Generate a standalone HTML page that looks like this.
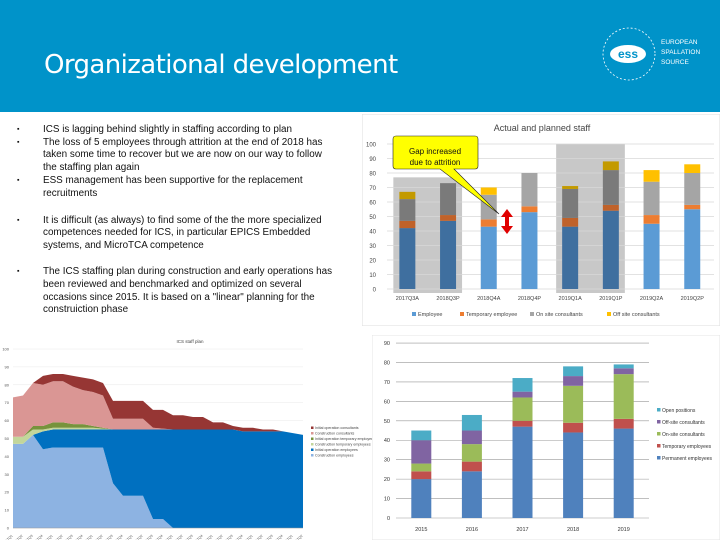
<!DOCTYPE html>
<html><head><meta charset="utf-8"><style>
body{margin:0;width:720px;height:540px;position:relative;overflow:hidden;background:#fff;font-family:"Liberation Sans",sans-serif}
#hdr{position:absolute;left:0;top:0;width:720px;height:112px;background:#0093c9}
#title{position:absolute;left:44px;top:50px;color:#fff;font-size:26px;font-family:"DejaVu Sans","Liberation Sans",sans-serif;font-weight:normal;letter-spacing:-0.6px}
#logo{position:absolute;left:598px;top:24px}
#logotxt{position:absolute;left:661px;top:38px;color:#fff;font-size:6.5px;line-height:10px}
#bul{position:absolute;left:0;top:124px;width:362px;font-size:9.9px;color:#111;line-height:12.6px;white-space:nowrap}
.b{position:relative;padding-left:43px;margin-bottom:0}
.b:before{content:"▪";position:absolute;left:17px;font-size:7px}
svg{position:absolute}
</style></head><body>
<div id="hdr"></div>
<div id="title">Organizational development</div>
<svg id="logo" width="62" height="60"><circle cx="31" cy="30" r="26" fill="none" stroke="#fff" stroke-dasharray="2 2" stroke-width="0.8"/><ellipse cx="30" cy="30" rx="18" ry="9" fill="#fff"/><text x="30" y="34" fill="#0093c9" font-size="12" font-weight="bold" text-anchor="middle">ess</text></svg>
<div id="logotxt">EUROPEAN<br>SPALLATION<br>SOURCE</div>
<div id="bul">
<div class="b">ICS is lagging behind slightly in staffing according to plan</div>
<div class="b">The loss of 5 employees through attrition at the end of 2018 has<br>taken some time to recover but we are now on our way to follow<br>the staffing plan again</div>
<div class="b" style="margin-top:1px">ESS management has been supportive for the replacement<br>recruitments</div>
<div style="height:14px"></div>
<div class="b">It is difficult (as always) to find some of the the more specialized<br>competences needed for ICS, in particular EPICS Embedded<br>systems, and MicroTCA competence</div>
<div style="height:14px"></div>
<div class="b">The ICS staffing plan during construction and early operations has<br>been reviewed and benchmarked and optimized on several<br>occasions since 2015. It is based on a "linear" planning for the<br>construiction phase</div>
</div>
<svg id="c1" style="left:362px;top:114px" width="358" height="212"></svg>
<svg id="c2" style="left:372px;top:335px" width="348" height="205"></svg>
<svg id="c3" style="left:0;top:335px" width="372" height="205"></svg>
<script>
const NS="http://www.w3.org/2000/svg";
function mk(p,t,a,txt){const e=document.createElementNS(NS,t);for(const k in a)e.setAttribute(k,a[k]);if(txt!=null)e.textContent=txt;p.appendChild(e);return e;}
// Chart 1 data
const c1Cats=["2017Q3A","2018Q3P","2018Q4A","2018Q4P","2019Q1A","2019Q1P","2019Q2A","2019Q2P"];
const c1Emp=[42,47,43,53,43,54,45,55];
const c1Temp=[5,4,5,4,6,4,6,3];
const c1On=[15,22,17,23,20,24,23,22];
const c1Off=[5,0,5,0,2,6,8,6];
const c1Actual=[1,1,0,0,1,1,0,0];
const c1Ticks=[0,10,20,30,40,50,60,70,80,90,100];
const c1Names=["Employee","Temporary employee","On site consultants","Off site consultants"];
(function(){
const s=document.getElementById('c1');
mk(s,'rect',{x:0,y:0,width:358,height:212,fill:'#fff',stroke:'#ddd'});
const y0=175,sc=1.45,x0=25,step=40.7;
const Y=v=>y0-v*sc, X=i=>x0+step*(i+0.5);
mk(s,'rect',{x:X(0)-14,y:Y(77),width:X(1)-X(0)+28,height:Y(0)-Y(77)+4,fill:'#c8c8c8'});
mk(s,'rect',{x:X(4)-14,y:Y(100),width:X(5)-X(4)+28,height:Y(0)-Y(100)+4,fill:'#c8c8c8'});
c1Ticks.forEach(t=>{mk(s,'line',{x1:x0,x2:352,y1:Y(t),y2:Y(t),stroke:'#d9d9d9','stroke-width':0.7});
const e=mk(s,'text',{x:14,y:Y(t)+2.5,'font-size':6,fill:'#444','text-anchor':'end'},t);});
const light=['#5b9bd5','#ed7d31','#a5a5a5','#ffc000'],dark=['#3f6f9f','#c0622a','#7a7a7a','#c39a00'];
const ser=[c1Emp,c1Temp,c1On,c1Off];
c1Cats.forEach((c,i)=>{let b=0;ser.forEach((sv,k)=>{const v=sv[i];if(v>0){const r=mk(s,'rect',{x:X(i)-8,y:Y(b+v),width:16,height:v*sc,fill:(c1Actual[i]?dark:light)[k]});}b+=v;});
const t=mk(s,'text',{x:X(i),y:Y(0)+11,'font-size':5.5,fill:'#444','text-anchor':'middle'},c);});
const ti=mk(s,'text',{x:180,y:17,'font-size':9,fill:'#444','text-anchor':'middle'},'Actual and planned staff');
const lx=[50,98,168,245];c1Names.forEach((n,k)=>{mk(s,'rect',{x:lx[k],y:198,width:4,height:4,fill:light[k]});const t=mk(s,'text',{x:lx[k]+6,y:202,'font-size':5.5,fill:'#444'},n);});
const g=mk(s,'g',{});
mk(g,'path',{d:'M34 22 H113 Q116 22 116 25 V52 Q116 55 113 55 H92 L137 100 L78 55 H34 Q31 55 31 52 V25 Q31 22 34 22Z',fill:'#ffff00',stroke:'#222','stroke-width':0.6});
mk(g,'text',{x:73,y:40,'font-size':8,'text-anchor':'middle',fill:'#111'},'Gap increased');
mk(g,'text',{x:73,y:51,'font-size':8,'text-anchor':'middle',fill:'#111'},'due to attrition');
mk(s,'path',{d:'M145 95 L151 103 H147 V112 H151 L145 120 L139 112 H143 V103 H139Z',fill:'#e00000'});
})();
// Chart 2 data
const c2Years=["2015","2016","2017","2018","2019"];
const c2Perm=[20,24,47,44,46];
const c2Temp=[4,5,3,5,5];
const c2On=[4,9,12,19,23];
const c2Off=[12,7,3,5,3];
const c2Open=[5,8,7,5,2];
const c2Ticks=[0,10,20,30,40,50,60,70,80,90];
const c2Names=["Open positions","Off-site consultants","On-site consultants","Temporary employees","Permanent employees"];
(function(){
const s=document.getElementById('c2');
mk(s,'rect',{x:0,y:0,width:348,height:205,fill:'#fff',stroke:'#e4e4e4'});
const y0=183,sc=1.944,x0=24,step=50.6;
const Y=v=>y0-v*sc,X=i=>x0+step*(i+0.5);
c2Ticks.forEach(t=>{mk(s,'line',{x1:x0,x2:x0+step*5,y1:Y(t),y2:Y(t),stroke:'#999','stroke-width':0.6});const e=mk(s,'text',{x:18,y:Y(t)+2,'font-size':5.5,fill:'#333','text-anchor':'end'},t);});
const cols=['#4f81bd','#c0504d','#9bbb59','#8064a2','#4bacc6'];const ser=[c2Perm,c2Temp,c2On,c2Off,c2Open];
c2Years.forEach((yv,i)=>{let b=0;ser.forEach((sv,k)=>{const v=sv[i];const r=mk(s,'rect',{x:X(i)-10,y:Y(b+v),width:20,height:v*sc,fill:cols[k]});b+=v;});
const t=mk(s,'text',{x:X(i),y:Y(0)+13,'font-size':5.5,fill:'#333','text-anchor':'middle'},yv);});
c2Names.forEach((n,k)=>{const yy=77+k*12;mk(s,'rect',{x:285,y:yy-4,width:3.5,height:3.5,fill:cols[4-k]});const t=mk(s,'text',{x:290,y:yy,'font-size':5,fill:'#333'},n);});
})();
// Chart 3 data
const c3ConEmp=[47,47,52,44,45,45,45,45,45,45,25,18,18,18,5,5,0,0,0,0,0,0,0,0,0,0,0,0,0,0];
const c3OpEmp=[0,0,0,10,10,10,10,10,10,10,30,37,37,37,50,50,55,55,55,55,55,55,55,54,54,54,54,54,53,52];
const c3ConTemp=[4,4,3,1,1,1,1,1,1,0.5,0,0,0,0,0,0,0,0,0,0,0,0,0,0,0,0,0,0,0,0];
const c3OpTemp=[0,0,2,2,3,3,2,2,1,0.5,0,0,0,0,0,0,0,0,0,0,0,0,0,0,0,0,0,0,0,0];
const c3ConCons=[22,23,24,23,23,23,21,19,19,18,6,6,6,6,1,0.5,0,0,0,0,0,0,0,0,0,0,0,0,0,0];
const c3OpCons=[0,0,0,5,4,4,6,7,7,7,10,10,10,10,10,10.5,8,8,7,7,4,4,2,2,2,1,1,0,0,0];
const c3Ticks=[0,10,20,30,40,50,60,70,80,90,100];
const c3Names=["Initial operation consultants","Construction consultants","Initial operation temporary employees","Construction temporary employees","Initial operation employees","Construction employees"];
(function(){
const s=document.getElementById('c3');
const y0=193,sc=1.79,x0=13,dx=10;
const Y=v=>y0-v*sc,X=i=>x0+dx*i;
c3Ticks.forEach(t=>{mk(s,'line',{x1:x0,x2:303,y1:Y(t),y2:Y(t),stroke:'#e8e8e8','stroke-width':0.5});const e=mk(s,'text',{x:9,y:Y(t)+1.5,'font-size':4,fill:'#555','text-anchor':'end'},t);});
const ser=[c3ConEmp,c3OpEmp,c3ConTemp,c3OpTemp,c3ConCons,c3OpCons];
const cols=['#8db3e2','#0070c0','#c3d69b','#77933c','#da9694','#963634'];
const n=c3ConEmp.length;let base=new Array(n).fill(0);
ser.forEach((sv,k)=>{const top=base.map((b,i)=>b+sv[i]);let d='M'+X(0)+' '+Y(top[0]);for(let i=1;i<n;i++)d+=' L'+X(i)+' '+Y(top[i]);for(let i=n-1;i>=0;i--)d+=' L'+X(i)+' '+Y(base[i]);d+='Z';
const p=mk(s,'path',{d:d,fill:cols[k]});base=top;});
mk(s,'line',{x1:x0,x2:303,y1:y0,y2:y0,stroke:'#999','stroke-width':0.5});
for(let i=0;i<n;i++){const t=mk(s,'text',{x:X(i),y:y0+8,'font-size':3.5,fill:'#555','text-anchor':'end',transform:'rotate(-45 '+X(i)+' '+(y0+8)+')'},'2017Q'+(i%4+1));}
const ti=mk(s,'text',{x:190,y:8,'font-size':4.5,fill:'#444','text-anchor':'middle'},'ICS staff plan');
c3Names.forEach((nm,k)=>{const yy=94+k*5.5;mk(s,'rect',{x:311,y:yy-2.5,width:2.5,height:2.5,fill:cols[5-k]});const t=mk(s,'text',{x:315,y:yy,'font-size':3.6,fill:'#444'},nm);});
})();
</script>
</body></html>
